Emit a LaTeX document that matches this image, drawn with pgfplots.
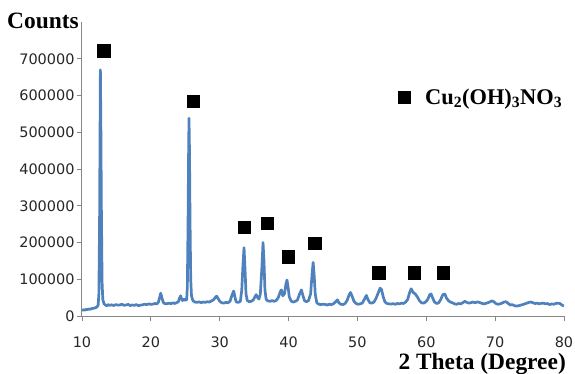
\documentclass[border=0pt]{standalone}
\usepackage{pgfplots}
\pgfplotsset{compat=1.18}
\usepackage{fontspec}
\setmainfont{Liberation Serif}
\newfontfamily\tickfont{DejaVu Sans}
\definecolor{xrdblue}{RGB}{79,129,189}
\definecolor{axgray}{RGB}{135,135,135}
\begin{document}
\begin{tikzpicture}
\begin{axis}[
  scale only axis,
  clip mode=individual,
  width=482bp, height=294bp,
  xmin=10, xmax=80, ymin=0, ymax=800000,
  axis lines=left,
  axis line style={-, axgray, line width=1bp},
  tick style={axgray, line width=0.8bp},
  tick align=outside,
  major tick length=5bp,
  xtick={10,20,...,80},
  ytick={0,100000,...,700000},
  scaled y ticks=false,
  /pgf/number format/assume math mode=true,
  /pgf/number format/fixed,
  /pgf/number format/1000 sep={},
  ticklabel style={font=\tickfont\fontsize{14.5}{14.5}\selectfont, text=black!85},
  xticklabel style={yshift=-12bp},
  yticklabel style={xshift=1bp},
  legend style={at={(rel axis cs:0.655,0.745)}, anchor=west, draw=none, fill=none,
    font=\bfseries\fontsize{22.5}{22.5}\selectfont, inner sep=0pt, column sep=13bp},
  legend cell align=left,
]
\coordinate (bl) at (rel axis cs:0,0);
\addplot[only marks, mark=square*, mark size=6.1bp, black] coordinates {
(13.15,722000) (26.1,584000) (33.53,240600) (36.87,251500) (39.9,161600)
(43.8,198000) (53.1,118000) (58.2,118000) (62.4,118000)
};
\addlegendentry{Cu\textsubscript{2}(OH)\textsubscript{3}NO\textsubscript{3}}
\addplot[xrdblue, line width=2.7bp, line join=round, forget plot] coordinates {
(10.0,15000) (10.2,17000) (10.4,16000) (10.6,18000) (10.8,17500) (11.0,19000)
(11.2,18500) (11.4,20000) (11.6,21000) (11.8,21500) (12.0,23000) (12.2,25000)
(12.35,30000) (12.45,60000) (12.55,250000) (12.62,500000) (12.67,670000)
(12.74,520000) (12.82,280000) (12.92,90000) (13.02,45000) (13.2,33000)
(13.4,30000) (13.6,28000) (13.8,31000) (14.0,29000) (14.3,30500) (14.6,28500)
(14.9,31000) (15.2,29500) (15.5,30000) (15.8,32000) (16.1,29000) (16.4,30000)
(16.7,31500) (17.0,28500) (17.3,30000) (17.6,29000) (17.9,31000) (18.2,28000)
(18.5,29500) (18.8,30500) (19.1,32000) (19.4,31000) (19.7,33000) (20.0,31500)
(20.3,32500) (20.6,34000) (20.9,33000) (21.1,38000) (21.3,52000) (21.43,62000)
(21.6,50000) (21.8,37000) (22.0,34000) (22.3,33000) (22.6,35000) (22.9,33500)
(23.2,36000) (23.5,34000) (23.8,37000) (24.0,39000) (24.15,48000) (24.33,55000)
(24.45,47000) (24.6,42000) (24.8,46000) (25.0,43000) (25.2,44000) (25.3,80000)
(25.4,250000) (25.48,440000) (25.54,538000) (25.61,450000) (25.69,260000)
(25.79,100000) (25.9,55000) (26.1,42000) (26.4,38000) (26.7,37000) (27.0,38500)
(27.3,36500) (27.6,38000) (27.9,37000) (28.2,39000) (28.5,38000) (28.8,41000)
(29.1,44000) (29.35,50000) (29.56,54000) (29.75,48000) (30.0,40000) (30.3,36000)
(30.6,35000) (30.9,37000) (31.2,36000) (31.5,40000) (31.75,55000) (32.03,68000)
(32.2,52000) (32.4,38000) (32.7,37000) (33.0,40000) (33.2,70000) (33.38,140000)
(33.53,186000) (33.67,130000) (33.82,60000) (34.0,42000) (34.3,39000) (34.6,40000)
(34.9,44000) (35.1,52000) (35.3,58000) (35.5,50000) (35.7,46000) (35.9,60000)
(36.12,130000) (36.29,200000) (36.43,150000) (36.57,70000) (36.75,45000)
(37.0,41000) (37.3,40000) (37.6,42000) (37.9,40000) (38.2,42000) (38.5,50000)
(38.8,66000) (38.96,71000) (39.15,55000) (39.4,60000) (39.6,85000) (39.77,98000)
(39.92,80000) (40.1,52000) (40.4,40000) (40.7,38000) (41.0,40000) (41.3,44000)
(41.6,60000) (41.86,71000) (42.05,58000) (42.3,42000) (42.6,39000) (42.9,42000)
(43.2,60000) (43.42,115000) (43.57,146000) (43.72,110000) (43.87,60000)
(44.1,36000) (44.4,32000) (44.7,31000) (45.0,32000) (45.3,31500) (45.6,30000)
(45.9,32000) (46.2,31000) (46.5,33000) (46.8,38000) (47.1,44000) (47.3,36000)
(47.6,32000) (47.9,31000) (48.2,34000) (48.5,42000) (48.8,58000) (49.0,64000)
(49.2,55000) (49.5,40000) (49.8,34000) (50.1,32000) (50.4,33000) (50.7,35000)
(51.0,45000) (51.3,56000) (51.5,46000) (51.8,36000) (52.1,35000) (52.4,38000)
(52.7,48000) (53.0,62000) (53.3,76000) (53.5,72000) (53.75,52000) (54.0,38000)
(54.3,34000) (54.6,33000) (54.9,32500) (55.2,33500) (55.5,32000) (55.8,34000)
(56.1,33000) (56.4,35000) (56.7,34000) (57.0,38000) (57.3,45000) (57.55,62000)
(57.8,74000) (58.1,64000) (58.4,60000) (58.7,52000) (59.0,42000) (59.3,36000)
(59.6,35000) (59.9,38000) (60.2,45000) (60.5,58000) (60.7,60000) (60.95,48000)
(61.2,38000) (61.5,34000) (61.8,36000) (62.1,45000) (62.4,58000) (62.7,60000)
(62.9,50000) (63.2,42000) (63.5,38000) (63.8,36000) (64.1,33000) (64.4,32000)
(64.7,34000) (65.0,33000) (65.3,36000) (65.6,40000) (65.9,37000) (66.2,35000)
(66.5,36500) (66.8,38000) (67.1,36000) (67.4,38500) (67.7,37000) (68.0,35000)
(68.3,33000) (68.6,34000) (68.9,36000) (69.2,38000) (69.5,41000) (69.8,39000)
(70.1,34000) (70.4,32000) (70.7,33000) (71.0,35000) (71.3,38000) (71.6,39000)
(71.9,34000) (72.2,30000) (72.5,31000) (72.8,28000) (73.1,27000) (73.4,28000)
(73.7,29500) (74.0,31000) (74.3,33000) (74.6,35000) (74.9,37000) (75.2,38000)
(75.5,36000) (75.8,34000) (76.1,35000) (76.4,33000) (76.7,34500) (77.0,35000)
(77.3,33000) (77.6,34000) (77.9,31000) (78.2,33000) (78.5,32000) (78.8,34000)
(79.1,35000) (79.4,34000) (79.7,30000) (80.0,27000)
};
\node[anchor=base east, font=\bfseries\fontsize{23.5}{23.5}\selectfont, inner sep=0pt]
  at ([xshift=-3bp,yshift=-6bp]rel axis cs:0,1) {Counts};
\node[anchor=base east, font=\bfseries\fontsize{23.5}{23.5}\selectfont, inner sep=0pt]
  at ([xshift=2bp,yshift=-53bp]rel axis cs:1,0) {2 Theta (Degree)};
\end{axis}
\pgfresetboundingbox
\path[use as bounding box] (bl) ++(-82bp,-58bp) rectangle ++(575bp,374bp);
\end{tikzpicture}
\end{document}
